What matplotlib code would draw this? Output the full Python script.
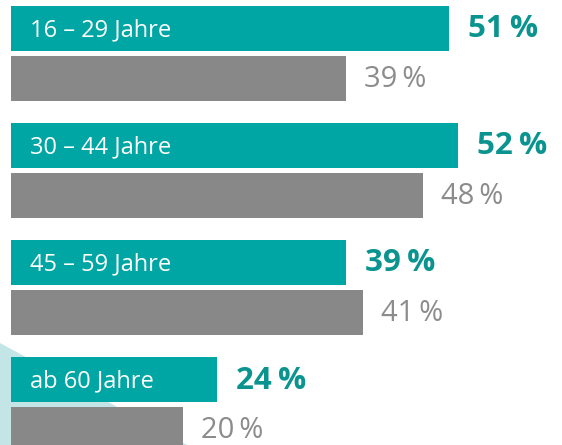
import matplotlib
matplotlib.use("Agg")
import matplotlib.pyplot as plt
from matplotlib.patches import Polygon

# Data
groups = ["16 – 29 Jahre", "30 – 44 Jahre", "45 – 59 Jahre", "ab 60 Jahre"]
teal_values = [51, 52, 39, 24]
gray_values = [39, 48, 41, 20]

teal = "#00a6a4"
teal_text = "#0b948f"
gray = "#888888"
gray_text = "#8c8c8c"
light = "#c4e5e5"

plt.rcParams['font.family'] = ['Open Sans', 'DejaVu Sans']

fig = plt.figure(figsize=(5.62, 4.45), dpi=100)
ax = fig.add_axes([11 / 562, 0, 1 - 11 / 562, 1])
ax.patch.set_alpha(0)
ax.set_zorder(1)

# decorative triangle in the lower left corner
tri = Polygon([(0, 1 - 343 / 445), (187 / 562, 0), (0, 0)], closed=True,
              transform=fig.transFigure, facecolor=light, edgecolor="none", zorder=-1)
fig.patches.append(tri)

h = 45 / 117
off = 25 / 117
pos = list(range(len(groups)))
ax.barh([p - off for p in pos], teal_values, height=h, color=teal, zorder=2)
ax.barh([p + off for p in pos], gray_values, height=h, color=gray, zorder=2)

px = 64.14 / 551  # data units per pixel
py = 1 / 117
for p, name, tv, gv in zip(pos, groups, teal_values, gray_values):
    ax.text(19 * px, p - off + 1.5 * py, name, color="white", fontsize=17,
            va="center", ha="left", zorder=3)
    ax.text(tv + 19 * px, p - off + 1 * py, f"{tv}\u2009%", color=teal_text, fontsize=22.5,
            fontweight="bold", va="center", ha="left", zorder=3)
    ax.text(gv + 18 * px, p + off + 1 * py, f"{gv}\u2009%", color=gray_text, fontsize=21,
            va="center", ha="left", zorder=3)

ax.set_xlim(0, 64.14)
ax.set_ylim(3.346, -0.457)
ax.axis("off")

fig.savefig("out.png", dpi=100)
